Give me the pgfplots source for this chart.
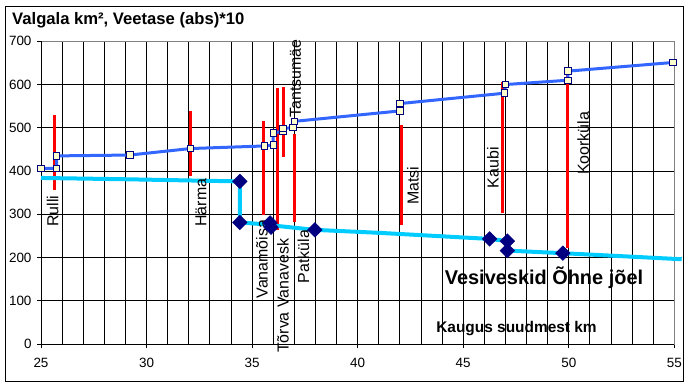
\documentclass[border=0pt]{standalone}
\usepackage{pgfplots}
\pgfplotsset{compat=1.18}
\usepackage{fontspec}
\setmainfont{Liberation Sans}
\definecolor{cyanl}{HTML}{00CCFF}
\definecolor{bluel}{HTML}{3366FF}
\definecolor{navyd}{HTML}{000080}
\definecolor{lyel}{HTML}{FFFFCC}
\begin{document}
\begin{tikzpicture}[x=1bp,y=1bp]
\begin{axis}[scale only axis,
  width=633.3bp, height=302.7bp,
  xmin=25, xmax=55, ymin=0, ymax=700,
  xtick={25,30,...,55}, minor x tick num=4, ytick={0,100,...,700},
  grid=both,
  major grid style={black, line width=0.8bp},
  minor grid style={black, line width=0.8bp},
  axis line style={gray, line width=0.8bp},
  tick pos=left, tick align=outside, major tick length=4bp, minor tick length=0pt,
  tick style={black, line width=0.8bp},
  clip=false,
  ticklabel style={font=\fontsize{13.5}{15}\selectfont},
  xticklabel style={yshift=-7bp},
  yticklabel style={xshift=-2bp},
  /pgf/number format/assume math mode=true,
  ]
\coordinate (O) at (rel axis cs:0,0);
\draw[black, line width=0.8bp] (rel axis cs:0,1) -- (rel axis cs:0,0) -- (rel axis cs:1,0);
% red bars
\addplot[red, line width=3bp] coordinates {(25.66,356) (25.66,529)};
\addplot[red, line width=3bp] coordinates {(32.08,388) (32.08,538)};
\addplot[red, line width=3bp] coordinates {(35.52,298) (35.52,515)};
\addplot[red, line width=3bp] coordinates {(36.18,263) (36.18,593)};
\addplot[red, line width=3bp] coordinates {(36.47,433) (36.47,594)};
\addplot[red, line width=3bp] coordinates {(36.99,283) (36.99,485)};
\addplot[red, line width=3bp] coordinates {(42.1,276) (42.1,506)};
\addplot[red, line width=3bp] coordinates {(46.88,302) (46.88,606)};
\addplot[red, line width=3bp] coordinates {(49.96,221) (49.96,629)};
% cyan water level line
\addplot[cyanl, line width=4bp, no marks] coordinates {
(25,384) (29,381) (34.42,376) (34.42,281) (35.85,276) (36.0,274) (37.97,264) (41.04,257) (46.25,243) (47.09,238) (47.09,216) (49.72,210) (55.35,196)};
% diamonds
\addplot[only marks, mark=square*, mark size=5.2bp, mark options={rotate=45, fill=navyd, draw=navyd}] coordinates {
(34.42,376) (34.42,281) (35.85,280) (35.9,270) (37.97,264) (46.25,243) (47.09,238) (47.09,216) (49.72,210)};
% blue catchment line
\addplot[bluel, line width=3bp, mark=square*, mark size=3.2bp, mark options={fill=lyel, draw=navyd, line width=1bp}] coordinates {
(25,406) (25.74,406) (25.74,435) (29.21,437) (32.08,452) (35.6,458) (36.0,460) (36.0,488) (36.47,492) (36.47,499) (36.94,500) (37.02,515) (42,539) (42,556) (46.96,580) (47,600) (49.96,610) (49.96,631) (54.93,651)};
% labels
\begin{scope}[every node/.style={rotate=90, anchor=west, inner sep=0pt, font=\fontsize{16}{19}\selectfont}]
\node at (axis cs:25.55,271) {Rulli};
\node at (axis cs:32.58,271) {Härma};
\node at (axis cs:35.47,105) {Vanamõisa};
\node at (axis cs:36.46,-21) {Tõrva Vanavesk};
\node at (axis cs:37.43,140) {Patküla};
\node at (axis cs:37.06,523) {Tantsumäe};
\node at (axis cs:42.62,321) {Matsi};
\node at (axis cs:46.41,360) {Kaubi};
\node at (axis cs:50.68,391) {Koorküla};
\end{scope}
\end{axis}
\begin{scope}[shift={(O)}, xshift=-41bp, yshift=-42bp]
\draw[black, line width=1bp] (6,5) rectangle (683,380);
\node[anchor=west, inner sep=0pt, font=\bfseries\fontsize{16.7}{19}\selectfont] at (12,366) {Valgala km², Veetase (abs)*10};
\node[inner sep=0pt, font=\bfseries\fontsize{20}{23}\selectfont] at (544,108) {Vesiveskid Õhne jõel};
\node[inner sep=0pt, font=\bfseries\fontsize{15.5}{18}\selectfont] at (516.5,57) {Kaugus suudmest km};
\pgfresetboundingbox
\useasboundingbox (0,0) rectangle (691,386);
\end{scope}
\end{tikzpicture}
\end{document}
